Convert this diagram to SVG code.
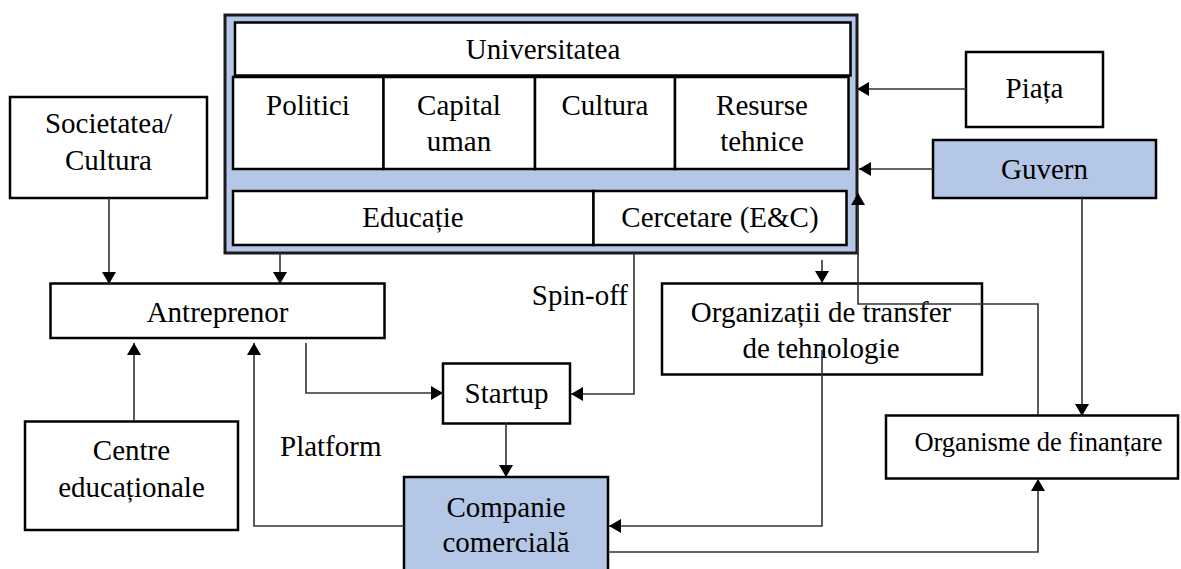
<svg xmlns="http://www.w3.org/2000/svg" width="1181" height="569" viewBox="0 0 1181 569">
  <defs>
    <style>
      .box { fill: #ffffff; stroke: #000000; stroke-width: 2.5; }
      .blue { fill: #b4c7e7; stroke: #000000; stroke-width: 2.5; }
      .frame { fill: #b4c7e7; stroke: #1a1a1a; stroke-width: 3; }
      .t { font-family: "Liberation Serif", "Times New Roman", serif; font-size: 29px; fill: #000000; text-anchor: middle; }
      .ts { font-family: "Liberation Serif", "Times New Roman", serif; font-size: 26.5px; fill: #000000; text-anchor: middle; }
      .lbl { font-family: "Liberation Serif", "Times New Roman", serif; font-size: 29px; fill: #000000; }
      .c { fill: none; stroke: #333333; stroke-width: 1.6; marker-end: url(#arr); }
    </style>
    <marker id="arr" viewBox="0 0 12 14" refX="12" refY="7" markerWidth="12" markerHeight="14" markerUnits="userSpaceOnUse" orient="auto">
      <path d="M0,0 L12,7 L0,14 z" fill="#000000"/>
    </marker>
  </defs>

  <g id="universitatea-frame">
    <rect class="frame" x="225" y="15" width="632" height="238"/>
  </g>
  <g id="universitatea">
    <rect class="box" x="235" y="22.5" width="615.5" height="53"/>
    <text class="t" x="543" y="59">Universitatea</text>
  </g>
  <g id="politici">
    <rect class="box" x="233" y="77" width="150.5" height="92"/>
    <text class="t" x="308" y="115">Politici</text>
  </g>
  <g id="capital-uman">
    <rect class="box" x="383.5" y="77" width="151.5" height="92"/>
    <text class="t" x="459" y="115">Capital</text>
    <text class="t" x="459" y="151">uman</text>
  </g>
  <g id="cultura-univ">
    <rect class="box" x="535" y="77" width="140" height="92"/>
    <text class="t" x="605" y="115">Cultura</text>
  </g>
  <g id="resurse-tehnice">
    <rect class="box" x="675" y="77" width="173.5" height="92"/>
    <text class="t" x="762" y="115">Resurse</text>
    <text class="t" x="762" y="151">tehnice</text>
  </g>
  <g id="educatie">
    <rect class="box" x="233" y="191" width="360.5" height="54"/>
    <text class="t" x="413" y="227">Educație</text>
  </g>
  <g id="cercetare">
    <rect class="box" x="593.5" y="191" width="253" height="54"/>
    <text class="t" x="720" y="227">Cercetare (E&amp;C)</text>
  </g>

  <g id="piata">
    <rect class="box" x="966" y="52" width="137" height="75"/>
    <text class="t" x="1034.5" y="98">Piața</text>
  </g>
  <g id="guvern">
    <rect class="blue" x="933" y="140" width="223" height="58"/>
    <text class="t" x="1044.5" y="179">Guvern</text>
  </g>
  <g id="societatea">
    <rect class="box" x="10" y="97" width="197" height="101"/>
    <text class="t" x="108.5" y="133">Societatea/</text>
    <text class="t" x="108.5" y="170">Cultura</text>
  </g>
  <g id="antreprenor">
    <rect class="box" x="50.5" y="283.5" width="334" height="54.5"/>
    <text class="t" x="217.5" y="321.5">Antreprenor</text>
  </g>
  <g id="centre">
    <rect class="box" x="25" y="421.5" width="213" height="108.5"/>
    <text class="t" x="131.5" y="460">Centre</text>
    <text class="t" x="131.5" y="497">educaționale</text>
  </g>
  <g id="startup">
    <rect class="box" x="443" y="363.5" width="127" height="60"/>
    <text class="t" x="506.5" y="403">Startup</text>
  </g>
  <g id="companie">
    <rect class="blue" x="404" y="477" width="204" height="96"/>
    <text class="t" x="506" y="517">Companie</text>
    <text class="t" x="506" y="552">comercială</text>
  </g>
  <g id="organizatii">
    <rect class="box" x="662" y="283.5" width="320" height="91"/>
    <text class="t" x="821" y="322">Organizații de transfer</text>
    <text class="t" x="821" y="358">de tehnologie</text>
  </g>
  <g id="organisme">
    <rect class="box" x="886" y="415.5" width="292" height="63"/>
    <text class="ts" x="1038.5" y="451">Organisme de finanțare</text>
  </g>

  <g id="labels">
    <text class="lbl" x="628" y="305" text-anchor="end">Spin-off</text>
    <text class="lbl" x="280" y="456">Platform</text>
  </g>

  <g id="connectors">
    <path class="c" d="M966,89 H857"/>
    <path class="c" d="M933,169 H859"/>
    <path class="c" d="M1038,415 V304 H858 V193"/>
    <path class="c" d="M1082,198 V416"/>
    <path class="c" d="M109,198 V284"/>
    <path class="c" d="M280,253 V284"/>
    <path class="c" d="M134,421 V343"/>
    <path class="c" d="M404,526 H254 V343"/>
    <path class="c" d="M306,343 V393 H443"/>
    <path class="c" d="M634,253 V394 H571"/>
    <path class="c" d="M506,423 V477"/>
    <path class="c" d="M822,260 V283"/>
    <path class="c" d="M822,350 V526 H609"/>
    <path class="c" d="M608,552 H1038 V479"/>
  </g>
</svg>
